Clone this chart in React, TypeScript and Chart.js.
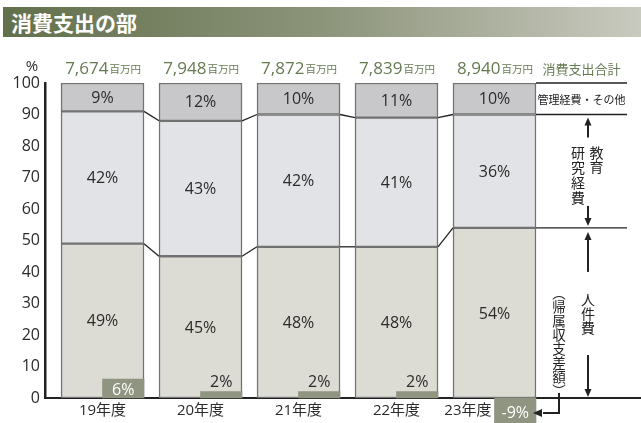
import React, { useEffect, useRef } from 'react';
import { Chart, registerables } from 'chart.js';

Chart.register(...registerables);

// ---- data ----
const categories = ['19年度', '20年度', '21年度', '22年度', '23年度'];
const totals = [7674, 7948, 7872, 7839, 8940]; // 百万円
const personnel = [49, 45, 48, 48, 54]; // 人件費
const eduResearch = [42, 43, 42, 41, 36]; // 教育研究経費
const adminOther = [9, 12, 10, 11, 10]; // 管理経費・その他
const balance = [6, 2, 2, 2, -9]; // 帰属収支差額

const FONT = '"Open Sans", "Noto Sans CJK JP", sans-serif';
const JFONT = '"Noto Sans CJK JP", sans-serif';
const GREEN = '#667a50';
const TEXT = '#2b2b2b';

// layout of the index axis (units per category)
const BAR_W = 83;
const X_MIN = -0.587;
const X_MAX = 5.495;
const SHIFT = BAR_W / 4 / 98; // half-bar offset for the balance bars

const toXY = (arr: number[]) => arr.map((v, i) => ({ x: i, y: v }));

function vArrow(ctx: CanvasRenderingContext2D, x: number, y1: number, y2: number) {
  const d = Math.sign(y2 - y1);
  ctx.beginPath();
  ctx.moveTo(x, y1);
  ctx.lineTo(x, y2 - d * 5);
  ctx.stroke();
  ctx.beginPath();
  ctx.moveTo(x, y2);
  ctx.lineTo(x - 3.5, y2 - d * 8);
  ctx.lineTo(x + 3.5, y2 - d * 8);
  ctx.closePath();
  ctx.fill();
}

function vText(ctx: CanvasRenderingContext2D, chars: string[], x: number, yStart: number, step: number) {
  chars.forEach((c, i) => ctx.fillText(c, x, yStart + i * step));
}

const overlayPlugin = {
  id: 'overlay',
  afterDatasetsDraw(chart: any) {
    const { ctx, chartArea, scales } = chart;
    const ys = scales.y;
    const xs = scales.x;
    const py = (v: number) => ys.getPixelForValue(v);
    const n = categories.length;
    const bars = chart.getDatasetMeta(0).data.map((e: any) => e.getProps(['x', 'width'], true));
    const cum1 = personnel.slice();
    const cum2 = personnel.map((v, i) => v + eduResearch[i]);
    const cum3 = cum2.map((v, i) => v + adminOther[i]);

    ctx.save();

    // segment labels
    ctx.font = `16px ${FONT}`;
    ctx.fillStyle = TEXT;
    ctx.textAlign = 'center';
    ctx.textBaseline = 'middle';
    [personnel, eduResearch, adminOther].forEach((arr, di) => {
      chart.getDatasetMeta(di).data.forEach((el: any, i: number) => {
        const p = el.getProps(['x', 'y', 'base'], true);
        ctx.fillText(arr[i] + '%', p.x, (p.y + p.base) / 2 + 1);
      });
    });

    // connector lines
    ctx.strokeStyle = '#222';
    ctx.lineWidth = 1.3;
    for (let i = 0; i < n - 1; i++) {
      const r = bars[i].x + bars[i].width / 2;
      const l = bars[i + 1].x - bars[i + 1].width / 2;
      [cum1, cum2].forEach((c) => {
        ctx.beginPath();
        ctx.moveTo(r, py(c[i]));
        ctx.lineTo(l, py(c[i + 1]));
        ctx.stroke();
      });
    }
    const last = bars[n - 1];
    const colL = last.x + last.width / 2;
    const colR = chartArea.right - 14;
    const colC = (colL + colR) / 2;
    [cum3, cum2, cum1].forEach((c) => {
      ctx.beginPath();
      ctx.moveTo(colL, py(c[n - 1]));
      ctx.lineTo(colR, py(c[n - 1]));
      ctx.stroke();
    });

    // balance labels
    chart.getDatasetMeta(3).data.forEach((el: any, i: number) => {
      const p = el.getProps(['x', 'y', 'base', 'width'], true);
      const v = balance[i];
      const h = Math.abs(p.base - p.y);
      ctx.font = `16px ${FONT}`;
      ctx.textAlign = 'center';
      ctx.textBaseline = 'middle';
      if (v < 0) {
        ctx.fillStyle = '#ffffff';
        ctx.fillText(v + '%', p.x, (p.base + Math.min(p.y, chart.height)) / 2 + 3);
      } else if (h >= 16) {
        ctx.fillStyle = '#ffffff';
        ctx.fillText(v + '%', p.x, (p.y + p.base) / 2 + 2);
      } else {
        ctx.fillStyle = TEXT;
        ctx.fillText(v + '%', p.x, p.y - 9);
      }
    });

    // category labels
    const balEls = chart.getDatasetMeta(3).data.map((e: any) => e.getProps(['x', 'width'], true));
    ctx.font = `15px ${FONT}`;
    ctx.fillStyle = TEXT;
    ctx.textBaseline = 'middle';
    categories.forEach((c, i) => {
      if (balance[i] < 0) {
        ctx.textAlign = 'right';
        ctx.fillText(c, balEls[i].x - balEls[i].width / 2 - 3, chartArea.bottom + 13);
      } else {
        ctx.textAlign = 'center';
        ctx.fillText(c, xs.getPixelForValue(i), chartArea.bottom + 13);
      }
    });

    // totals above bars
    ctx.textBaseline = 'alphabetic';
    ctx.textAlign = 'left';
    const baseY = chartArea.top - 9;
    totals.forEach((t, i) => {
      const num = t.toLocaleString('en-US');
      ctx.font = `17px ${FONT}`;
      const w1 = ctx.measureText(num).width;
      ctx.font = `10.5px ${JFONT}`;
      const w2 = ctx.measureText('百万円').width;
      const x0 = bars[i].x - (w1 + w2) / 2;
      ctx.fillStyle = GREEN;
      ctx.font = `17px ${FONT}`;
      ctx.fillText(num, x0, baseY);
      ctx.font = `10.5px ${JFONT}`;
      ctx.fillText('百万円', x0 + w1 + 1, baseY - 1);
    });
    ctx.textAlign = 'center';
    ctx.font = `13px ${JFONT}`;
    ctx.fillStyle = GREEN;
    ctx.fillText('消費支出合計', colC, baseY);

    // % unit
    ctx.font = `15px ${FONT}`;
    ctx.fillStyle = TEXT;
    ctx.textBaseline = 'middle';
    ctx.fillText('%', chartArea.left - 13, chartArea.top - 16);

    // right column annotations
    ctx.fillStyle = '#222';
    ctx.strokeStyle = '#222';
    ctx.lineWidth = 2;
    ctx.font = `11px ${JFONT}`;
    ctx.fillText('管理経費・その他', colC, (py(cum3[n - 1]) + py(cum2[n - 1])) / 2 + 1);

    const ax = colC + 6.5;
    const l2 = py(cum2[n - 1]);
    const l1 = py(cum1[n - 1]);
    const l0 = py(0);
    // 教育研究経費
    vArrow(ctx, ax, l2 + 23, l2 + 3);
    ctx.font = `14px ${JFONT}`;
    vText(ctx, ['教', '育'], colC + 15, l2 + 38, 14.5);
    vText(ctx, ['研', '究', '経', '費'], colC - 3.5, l2 + 38, 15);
    vArrow(ctx, ax, l1 - 22, l1 - 2);
    // 人件費
    vArrow(ctx, ax, l1 + 44, l1 + 4);
    vText(ctx, ['人', '件', '費'], ax, l1 + 72, 14);
    vArrow(ctx, ax, l0 - 43, l0 - 1);
    // 帰属収支差額
    const bx = colC - 22.5;
    ctx.font = `13.5px ${JFONT}`;
    vText(ctx, ['︵', '帰', '属', '収', '支', '差', '額', '︶'], bx, 293, 14);
    const b = balEls[n - 1];
    const by = l0 + 15;
    ctx.lineWidth = 2;
    ctx.beginPath();
    ctx.moveTo(bx, l0 - 5);
    ctx.lineTo(bx, by);
    ctx.lineTo(b.x + b.width / 2 + 7, by);
    ctx.stroke();
    ctx.beginPath();
    ctx.moveTo(b.x + b.width / 2 - 3, by);
    ctx.lineTo(b.x + b.width / 2 + 6, by - 4);
    ctx.lineTo(b.x + b.width / 2 + 6, by + 4);
    ctx.closePath();
    ctx.fill();

    ctx.restore();
  },
};

export default function App() {
  const ref = useRef<HTMLCanvasElement | null>(null);

  useEffect(() => {
    if (!ref.current) return;
    const segCommon = {
      borderColor: '#727272',
      borderWidth: 1.5,
      borderSkipped: false,
      barThickness: BAR_W,
      grouped: false,
      xAxisID: 'x',
      yAxisID: 'y',
      order: 1,
    };
    const chart = new Chart(ref.current, {
      type: 'bar',
      data: {
        datasets: [
          { ...segCommon, label: '人件費', data: toXY(personnel), backgroundColor: '#dcdcd4' },
          { ...segCommon, label: '教育研究経費', data: toXY(eduResearch), backgroundColor: '#e2e3e6' },
          { ...segCommon, label: '管理経費・その他', data: toXY(adminOther), backgroundColor: '#c8c8ca' },
          {
            label: '帰属収支差額',
            data: toXY(balance),
            backgroundColor: '#8f9580',
            borderWidth: 0,
            barThickness: BAR_W / 2,
            grouped: false,
            xAxisID: 'x2',
            yAxisID: 'y',
            clip: false,
            order: 0,
          },
        ] as any,
      },
      options: {
        animation: false,
        responsive: false,
        devicePixelRatio: 1,
        layout: { padding: { top: 83, left: 0, right: 0, bottom: 0 } },
        plugins: { legend: { display: false }, tooltip: { enabled: false } },
        scales: {
          x: {
            type: 'linear',
            min: X_MIN,
            max: X_MAX,
            offset: false,
            stacked: true,
            grid: { display: false, drawTicks: false, offset: false },
            ticks: { display: false, includeBounds: false, stepSize: 1 },
            border: { color: '#222', width: 2 },
            afterFit: (s: any) => {
              s.height = 25;
            },
          },
          x2: {
            type: 'linear',
            display: false,
            offset: false,
            min: X_MIN - SHIFT,
            max: X_MAX - SHIFT,
            stacked: true,
            grid: { offset: false },
            ticks: { includeBounds: false, stepSize: 1 },
          },
          y: {
            min: 0,
            max: 100,
            stacked: true,
            ticks: { stepSize: 10, color: TEXT, font: { family: FONT, size: 16 }, padding: 5 },
            grid: { display: false, drawTicks: false },
            border: { color: '#222', width: 2.5 },
            afterFit: (s: any) => {
              s.width = 45;
            },
          },
        },
      } as any,
      plugins: [overlayPlugin],
    });
    return () => chart.destroy();
  }, []);

  return (
    <div style={{ position: 'fixed', left: 0, top: 0, width: 641, height: 423, background: '#fff', overflow: 'hidden' }}>
      <canvas ref={ref} width={641} height={423} style={{ position: 'absolute', left: 0, top: 0, width: 641, height: 423 }} />
      <div
        style={{
          position: 'absolute',
          left: 3,
          top: 7,
          width: 638,
          height: 30,
          background: 'linear-gradient(to right, #62704c 0%, #8c947a 50%, #c9cabf 100%)',
          color: '#fff',
          fontFamily: JFONT,
          fontWeight: 700,
          fontSize: 21,
          lineHeight: '30px',
          paddingLeft: 8,
          boxSizing: 'border-box',
        }}
      >
        消費支出の部
      </div>
    </div>
  );
}
